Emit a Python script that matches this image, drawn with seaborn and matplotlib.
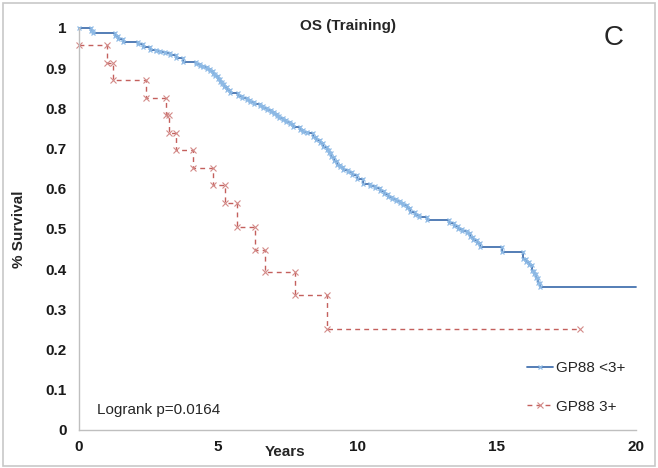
import pandas as pd
import matplotlib.pyplot as plt
import seaborn as sns
from matplotlib.patches import Rectangle

# Kaplan-Meier estimates (time of drop, survival after drop)
low_times = [0, 0.42, 0.51, 1.29, 1.40, 1.59, 2.13, 2.30, 2.55, 2.75, 2.90, 3.10, 3.27,
             3.50, 3.75, 4.22, 4.35, 4.45, 4.58, 4.70, 4.80, 4.90, 4.98, 5.05, 5.12,
             5.20, 5.30, 5.42, 5.70, 5.85, 6.02, 6.15, 6.30, 6.50, 6.62, 6.74, 6.88,
             7.00, 7.10, 7.20, 7.33, 7.45, 7.58, 7.70, 7.94, 8.05, 8.20, 8.41, 8.52,
             8.65, 8.77, 8.89, 8.97, 9.05, 9.15, 9.25, 9.37, 9.49, 9.65, 9.80, 10.00,
             10.20, 10.45, 10.62, 10.80, 10.95, 11.10, 11.25, 11.40, 11.52, 11.65,
             11.78, 11.89, 12.05, 12.20, 12.48, 13.30, 13.45, 13.60, 13.75, 13.92,
             14.05, 14.15, 14.28, 14.40, 15.18, 15.95, 16.05, 16.15, 16.25, 16.33,
             16.40, 16.48, 16.55]
low_surv = [1.0, 0.993, 0.987, 0.980, 0.973, 0.966, 0.959, 0.952, 0.945, 0.943, 0.940,
            0.937, 0.934, 0.925, 0.916, 0.911, 0.906, 0.902, 0.897, 0.892, 0.886,
            0.880, 0.873, 0.866, 0.860, 0.853, 0.846, 0.838, 0.830, 0.826, 0.821,
            0.817, 0.812, 0.805, 0.801, 0.796, 0.790, 0.785, 0.780, 0.775, 0.770,
            0.765, 0.760, 0.754, 0.746, 0.742, 0.738, 0.730, 0.722, 0.713, 0.705,
            0.697, 0.689, 0.680, 0.670, 0.660, 0.654, 0.647, 0.641, 0.635, 0.624,
            0.612, 0.606, 0.601, 0.595, 0.588, 0.580, 0.575, 0.570, 0.565, 0.560,
            0.551, 0.542, 0.536, 0.530, 0.522, 0.514, 0.507, 0.500, 0.495, 0.489,
            0.480, 0.472, 0.464, 0.456, 0.444, 0.425, 0.417, 0.410, 0.395, 0.387,
            0.378, 0.366, 0.355]
low_end = 20.0

high_times = [0, 0.99, 1.23, 2.40, 3.12, 3.24, 3.48, 4.10, 4.82, 5.24, 5.66, 6.32, 6.68,
              7.76, 8.89]
high_surv = [0.957, 0.913, 0.870, 0.827, 0.783, 0.740, 0.696, 0.652, 0.609, 0.565,
             0.505, 0.448, 0.394, 0.336, 0.250]
high_end = 18.0

x_ticks = [0, 5, 10, 15, 20]
y_ticks = [0, 0.1, 0.2, 0.3, 0.4, 0.5, 0.6, 0.7, 0.8, 0.9, 1]


def step_frame(times, surv, end):
    """Turn drop times + survival into step-curve vertices."""
    xs, ys = [times[0]], [surv[0]]
    for t, s_prev, s in zip(times[1:], surv[:-1], surv[1:]):
        xs += [t, t]
        ys += [s_prev, s]
    xs.append(end)
    ys.append(surv[-1])
    return pd.DataFrame({'years': xs, 'survival': ys})


sns.set_theme(style="white")
plt.rcParams['font.family'] = ['Liberation Sans', 'DejaVu Sans']

fig = plt.figure(figsize=(6.58, 4.68), dpi=100)
ax = fig.add_axes([0.120, 0.0812, 0.8465, 0.859])

df_low = step_frame(low_times, low_surv, low_end)
df_high = step_frame(high_times, high_surv, high_end)

sns.lineplot(data=df_low, x='years', y='survival', ax=ax, estimator=None, sort=False,
             color='#4573b0', lw=1.3, marker='x', ms=3.5, mec='#8fbbe6', mew=0.9,
             markevery=list(range(len(df_low) - 1)), label='GP88 <3+')
sns.lineplot(data=df_high, x='years', y='survival', ax=ax, estimator=None, sort=False,
             color='#c4605d', lw=1.0, ls=(0, (3.5, 3)), marker='x', ms=4,
             mec='#d38a88', mew=0.8, label='GP88 3+')

ax.set_xlim(0, 20)
ax.set_ylim(0, 1)
ax.set_xticks(x_ticks)
ax.set_yticks(y_ticks)
ax.set_xticklabels([str(t) for t in x_ticks], fontsize=11, fontweight='bold')
ax.set_yticklabels(['0', '0.1', '0.2', '0.3', '0.4', '0.5', '0.6', '0.7', '0.8',
                    '0.9', '1'], fontsize=11, fontweight='bold')
ax.tick_params(axis='both', direction='inout', length=6, width=0.8, color='#bfbfbf',
               pad=6, labelcolor='#1a1a1a')
ax.tick_params(axis='x', pad=4)

for side in ['top', 'right']:
    ax.spines[side].set_visible(False)
for side in ['left', 'bottom']:
    ax.spines[side].set_color('#bfbfbf')
    ax.spines[side].set_linewidth(1.0)
for line in ax.lines:
    line.set_clip_on(False)

ax.set_xlabel('')
ax.set_ylabel('% Survival', fontsize=11, fontweight='bold', labelpad=14)

fig.text(0.433, 0.034, 'Years', fontsize=11, fontweight='bold', ha='center', va='center')
fig.text(0.529, 0.944, 'OS (Training)', fontsize=11, fontweight='bold', ha='center',
         va='center')
fig.text(0.932, 0.919, 'C', fontsize=20, ha='center', va='center')
ax.text(0.65, 0.05, 'Logrank p=0.0164', fontsize=11, ha='left', va='center')

ax.legend(loc='center left', bbox_to_anchor=(0.805, 0.106), frameon=False,
          fontsize=11, handlelength=1.7, handletextpad=0.2, labelspacing=1.6,
          borderpad=0, borderaxespad=0)

fig.patches.append(Rectangle((0.004, 0.004), 0.992, 0.99, transform=fig.transFigure,
                             fill=False, edgecolor='#c8c8c8', lw=1.2))

plt.savefig('out.png', dpi=100)
plt.close()
